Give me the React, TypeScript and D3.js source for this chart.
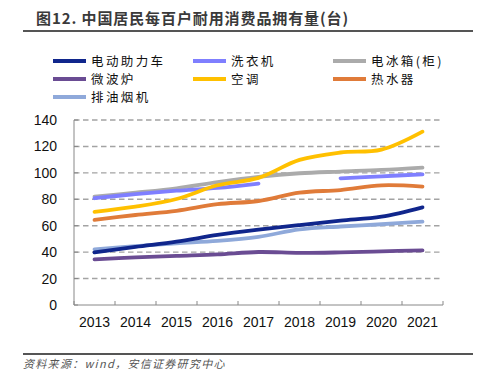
import React from "react";
import * as d3 from "d3";

const years = ["2013", "2014", "2015", "2016", "2017", "2018", "2019", "2020", "2021"];
const ebike = [39.8, 44.0, 47.9, 53.0, 57.0, 60.5, 63.8, 66.8, 73.9];
const washer: (number | null)[] = [80.8, 83.9, 86.5, 88.6, 91.9, null, 95.9, 97.4, 98.9];
const fridge = [82.0, 85.0, 88.3, 93.0, 97.0, 99.7, 101.0, 102.2, 104.0];
const microwave = [34.5, 36.0, 37.2, 38.3, 40.1, 39.4, 39.8, 40.6, 41.4];
const aircon = [70.5, 74.4, 80.2, 90.6, 96.2, 109.8, 115.4, 117.6, 131.2];
const heater = [64.4, 68.1, 71.3, 76.3, 78.7, 85.0, 87.0, 90.6, 89.6];
const hood = [42.1, 44.6, 46.7, 48.5, 51.6, 57.2, 59.4, 61.1, 63.1];
const yTicks = [0, 20, 40, 60, 80, 100, 120, 140];

const seriesNames = ["电动助力车", "洗衣机", "电冰箱(柜)", "微波炉", "空调", "热水器", "排油烟机"];
const seriesColors = ["#10268C", "#7F7FFF", "#ABABAB", "#6A4C93", "#FFC000", "#E07B39", "#8FA9DA"];
const seriesData: (number | null)[][] = [ebike, washer, fridge, microwave, aircon, heater, hood];
// draw order (back to front)
const drawOrder = [2, 1, 4, 5, 6, 0, 3];

export default function App() {
  const W = 487, H = 379;
  const left = 74, right = 443, top = 120, bottom = 305;
  const x = d3.scaleBand().domain(years).range([left, right]);
  const y = d3.scaleLinear().domain([0, 140]).range([bottom, top]);
  const cx = (i: number) => (x(years[i]) as number) + x.bandwidth() / 2;

  const line = d3
    .line<number | null>()
    .defined((d) => d !== null)
    .x((_, i) => cx(i))
    .y((d) => y(d as number))
    .curve(d3.curveCatmullRom.alpha(0.5));

  const legendCols = [53, 193, 333];
  const legendRows = [61, 79, 97];

  const boundaries = years.map((yr) => x(yr) as number).concat([right]);

  return (
    <svg width={W} height={H} style={{ position: "absolute", left: 0, top: 0, background: "#fff" }}>
      <rect x={0} y={0} width={W} height={H} fill="#fff" />
      <text x={36} y={24} fontFamily="'Noto Sans CJK SC', sans-serif" fontWeight="bold" fontSize={15} fill="#3a3a3a" letterSpacing={0.9}>
        图12. 中国居民每百户耐用消费品拥有量(台)
      </text>
      <line x1={23} x2={473} y1={31} y2={31} stroke="#555" strokeWidth={1.8} />

      {seriesNames.map((name, i) => {
        const col = i % 3;
        const row = Math.floor(i / 3);
        const lx = legendCols[col];
        const ly = legendRows[row];
        return (
          <g key={name}>
            <line x1={lx} x2={lx + 33} y1={ly} y2={ly} stroke={seriesColors[i]} strokeWidth={4} />
            <text x={lx + 38} y={ly + 4.5} fontFamily="'Noto Sans CJK SC', sans-serif" fontSize={12.5} fill="#111" letterSpacing={2.4}>
              {name}
            </text>
          </g>
        );
      })}

      {yTicks.filter((t) => t > 0).map((t) => (
        <line key={"g" + t} x1={left} x2={right - 1} y1={y(t)} y2={y(t)} stroke="#A3A3A3" strokeWidth={1.4} strokeDasharray="5.5,3.5" />
      ))}

      {yTicks.map((t) => (
        <g key={"y" + t}>
          <line x1={left} x2={left + 4} y1={y(t)} y2={y(t)} stroke="#888" strokeWidth={1} />
          <text x={57} y={y(t) + 5} textAnchor="end" fontFamily="Arial, 'Liberation Sans', sans-serif" fontSize={14} fill="#111">
            {t}
          </text>
        </g>
      ))}
      <line x1={left} x2={left} y1={top} y2={bottom} stroke="#888" strokeWidth={1} />
      <line x1={left} x2={right} y1={bottom} y2={bottom} stroke="#888" strokeWidth={1} />
      {boundaries.map((b, i) => (
        <line key={"b" + i} x1={b} x2={b} y1={bottom} y2={bottom - 4} stroke="#888" strokeWidth={1} />
      ))}
      {years.map((yr, i) => (
        <text key={yr} x={cx(i)} y={327} textAnchor="middle" fontFamily="Arial, 'Liberation Sans', sans-serif" fontSize={14} fill="#111">
          {yr}
        </text>
      ))}

      {drawOrder.map((si) => (
        <path key={"s" + si} d={line(seriesData[si]) || ""} fill="none" stroke={seriesColors[si]} strokeWidth={3.8} strokeLinecap="round" strokeLinejoin="round" />
      ))}

      <line x1={23} x2={473} y1={354} y2={354} stroke="#555" strokeWidth={1.8} />
      <text x={23} y={368} fontFamily="'Noto Sans CJK SC', sans-serif" fontSize={11} fill="#555" fontStyle="italic" letterSpacing={1.3}>
        资料来源：wind，安信证券研究中心
      </text>
    </svg>
  );
}
